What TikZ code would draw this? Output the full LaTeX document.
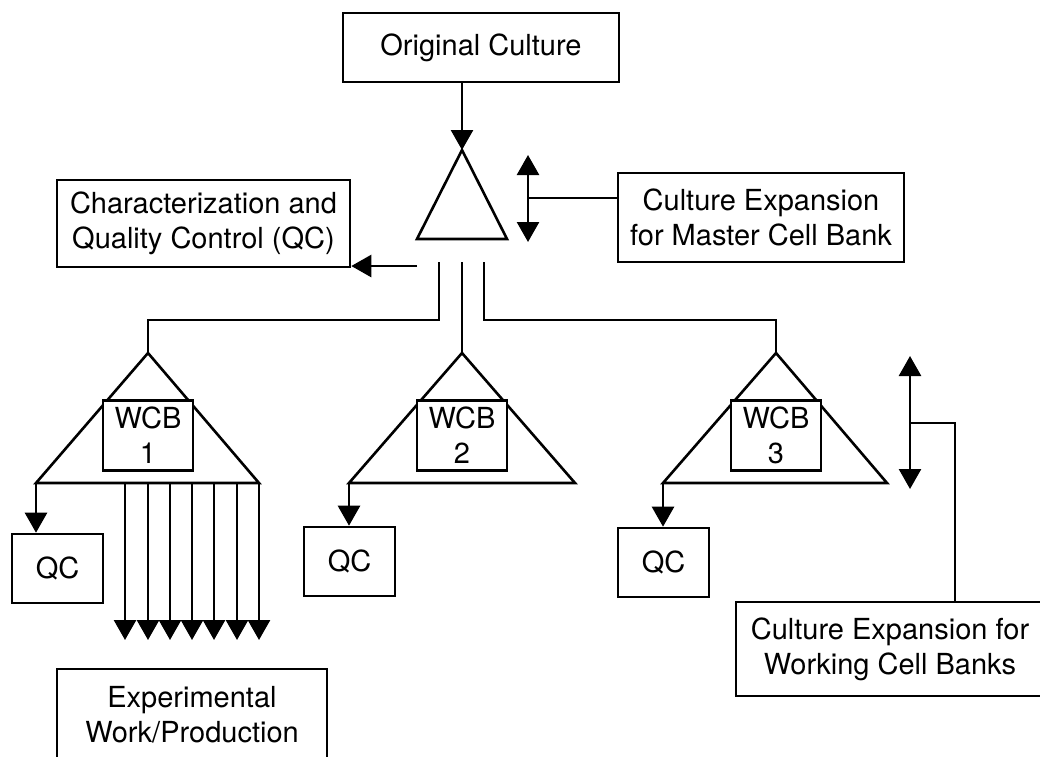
\documentclass[tikz,border=0pt]{standalone}
\usepackage{fontspec}
\setmainfont{TeX Gyre Heros}
\usetikzlibrary{arrows.meta}

\begin{document}
\begin{tikzpicture}[x=1pt, y=-1pt, line width=2.6pt,
    box/.style={draw, fill=white, align=center, inner sep=0pt, font=\fontsize{29}{35}\selectfont},
    arr/.style={-{Triangle[width=22pt,length=20pt]}},
    twoway/.style={{Triangle[width=22pt,length=20pt]}-{Triangle[width=22pt,length=20pt]}}]
    \useasboundingbox (0,0) rectangle (1040,756);

    % master cell bank
    \node[box, minimum width=276pt, minimum height=69pt] (orig) at (481,47.5) {Original Culture};
    \coordinate (mcb) at (462,150);
    \draw (mcb) -- (417,239) -- (507,239) -- cycle;
    \draw[arr] (orig.south -| mcb) -- (mcb);

    \node[box, minimum width=286pt, minimum height=89pt] (mcbexp) at (761,217.5) {Culture Expansion\\for Master Cell Bank};
    \coordinate (mcbturn) at (528,198);
    \draw[twoway] (528,155) -- (528,242);
    \draw (mcbturn) -- (mcbturn -| mcbexp.west);

    \node[box, minimum width=293pt, minimum height=87pt] (charqc) at (203.5,223.5) {Characterization and\\Quality Control (QC)};
    \coordinate (qcout) at (417,266);
    \draw[arr] (qcout) -- (qcout -| charqc.east);

    % working cell banks
    \coordinate (top1) at (148,353);
    \coordinate (top2) at (462,352);
    \coordinate (top3) at (776,353);
    \draw (439,262) -- (439,320) -| (top1);
    \draw (top2 |- 0,262) -- (top2);
    \draw (484,262) -- (484,320) -| (top3);

    \foreach \i/\ax/\bl/\br in {1/148/36/259, 2/462/349/575, 3/776/663/887} {
        \draw (\ax,353) -- (\bl,483) -- (\br,483) -- cycle;
        \node[box, minimum width=90pt, minimum height=70pt] (wcb\i) at (\ax,435.5) {WCB\\\i};
    }

    \node[box, minimum width=91pt, minimum height=69pt] (qc1) at (57.5,568.5) {QC};
    \node[box, minimum width=91pt, minimum height=69pt] (qc2) at (349.5,561.5) {QC};
    \node[box, minimum width=91pt, minimum height=69pt] (qc3) at (663.5,562.5) {QC};
    \draw[arr] (36,483) -- (qc1.north -| 36,0);
    \draw[arr] (349,483) -- (qc2.north -| 349,0);
    \draw[arr] (663,483) -- (qc3.north -| 663,0);

    \foreach \x in {125,148,170,192,214,237,259}
        \draw[arr] (\x,483) -- (\x,640);
    \node[box, minimum width=270pt, minimum height=91pt] (expwork) at (192,714.5) {Experimental\\Work/Production};

    \node[box, minimum width=308pt, minimum height=94pt] (wcbexp) at (890,649) {Culture Expansion for\\Working Cell Banks};
    \coordinate (wcbturn) at (910,423);
    \draw[twoway] (910,356) -- (910,489);
    \draw (wcbturn) -- (955,423) -- (wcbexp.north -| 955,0);
\end{tikzpicture}
\end{document}
